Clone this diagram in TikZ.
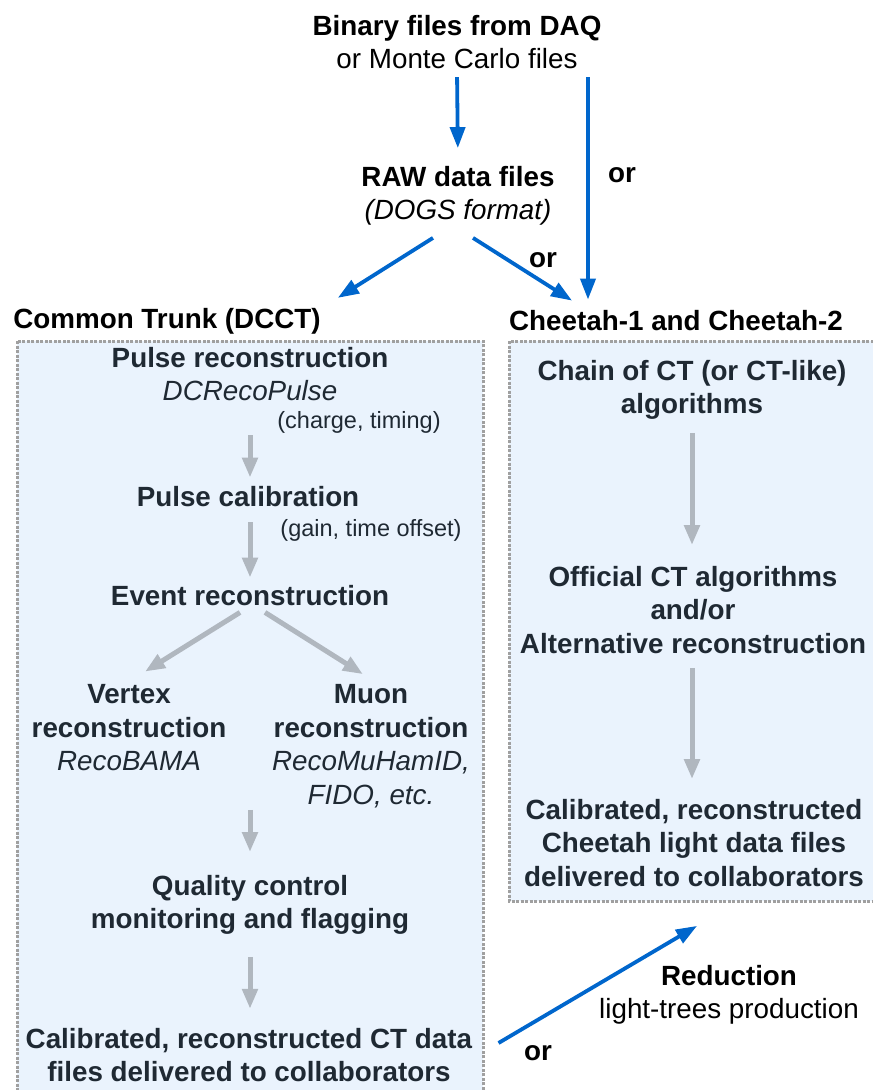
\documentclass[tikz,border=0pt]{standalone}
\usepackage{fontspec}
\setmainfont{Liberation Sans}
\usetikzlibrary{arrows.meta, positioning}
\definecolor{flowBlue}{RGB}{0,102,204}
\definecolor{stepGray}{RGB}{176,183,191}
\definecolor{boxFill}{RGB}{234,243,253}
\definecolor{boxEdge}{RGB}{160,160,160}
\definecolor{boxText}{RGB}{31,41,51}
\newcommand{\bigtext}{\fontsize{27.8}{33.5}\selectfont}
\newcommand{\smalltext}{\fontsize{23.5}{28}\selectfont}

\begin{document}
\begin{tikzpicture}[
        x=1pt,
        y=-1pt,
        title/.style={align=center, font=\bigtext, inner sep=2pt},
        stage/.style={title, text=boxText},
        note/.style={font=\smalltext, text=boxText, inner sep=2pt},
        flow/.style={line width=3.8pt, flowBlue, -{Triangle[length=21pt, width=15pt]}},
        stepArrow/.style={line width=5pt, stepGray, -{Triangle[length=20pt, width=15pt]}},
        container/.style={fill=boxFill, draw=boxEdge, line width=3pt, dash pattern=on 3pt off 1.5pt}
    ]
        \useasboundingbox (0,0) rectangle (873,1090);

        \draw[container] (17,341) rectangle (483,1110);
        \draw[container] (509,341) rectangle (885,901);

        \node[title] (binary) at (457,42)
            {\textbf{Binary files from DAQ}\\or Monte Carlo files};
        \node[title] (raw) at (458,196)
            {\textbf{RAW data files}\\\textit{(DOGS format)}};
        \node[title] (trunk) at (167,321) {\textbf{Common Trunk (DCCT)}};
        \node[title] (cheetah) at (676,321) {\textbf{Cheetah-1 and Cheetah-2}};
        \node[title] (orTop) at (622,175) {\textbf{or}};
        \node[title] (orMid) at (543,260) {\textbf{or}};
        \node[title] (orLow) at (538,1053) {\textbf{or}};

        \draw[flow, shorten <=6pt, shorten >=16pt] (binary.south) -- (raw.north);
        \draw[flow, shorten <=6pt, shorten >=9pt] ([xshift=131pt]binary.south)
            -- ([xshift=131pt]binary.south |- cheetah.north);
        \draw[flow] ([xshift=-25pt, yshift=-10pt]raw.south) -- ([xshift=15pt, yshift=8pt]trunk.north east);
        \draw[flow] ([xshift=15pt, yshift=-10pt]raw.south) -- ([xshift=-104pt, yshift=8pt]cheetah.north);

        \node[stage] (pulse) at (250,374) {\textbf{Pulse reconstruction}\\\textit{DCRecoPulse}};
        \node[note] (charge) at (359,422) {(charge, timing)};
        \node[stage] (calib) at (248,497) {\textbf{Pulse calibration}};
        \node[note] (gain) at (371,530) {(gain, time offset)};
        \node[stage] (event) at (250,596) {\textbf{Event reconstruction}};
        \node[stage] (vertex) at (129,728) {\textbf{Vertex}\\\textbf{reconstruction}\\\textit{RecoBAMA}};
        \node[stage] (muon) at (371,746)
            {\textbf{Muon}\\\textbf{reconstruction}\\\textit{RecoMuHamID,}\\\textit{FIDO, etc.}};
        \node[stage] (quality) at (250,905) {\textbf{Quality control}\\\textbf{monitoring and flagging}};
        \node[stage] (ctfiles) at (249,1055)
            {\textbf{Calibrated, reconstructed CT data}\\\textbf{files delivered to collaborators}};

        \draw[stepArrow, shorten >=7pt] (charge.south -| pulse.south) -- (calib.north -| pulse.south);
        \draw[stepArrow, shorten <=13pt, shorten >=6pt] ([xshift=2pt]calib.south) -- (event.north);
        \draw[stepArrow] ([xshift=-10pt, yshift=-4pt]event.south) -- ([xshift=16pt, yshift=11pt]vertex.north);
        \draw[stepArrow] ([xshift=15pt, yshift=-4pt]event.south) -- ([xshift=-8pt, yshift=8pt]muon.north);
        \draw[stepArrow, shorten >=21pt] (muon.south -| quality.north) -- (quality.north);
        \draw[stepArrow, shorten <=20pt, shorten >=17pt] (quality.south) -- (ctfiles.north -| quality.south);

        \node[stage] (chain) at (692,390) {\textbf{Chain of CT (or CT-like)}\\\textbf{algorithms}};
        \node[stage] (official) at (693,610)
            {\textbf{Official CT algorithms}\\\textbf{and/or}\\\textbf{Alternative reconstruction}};
        \node[stage] (cheetahfiles) at (694,843)
            {\textbf{Calibrated, reconstructed}\\\textbf{Cheetah light data files}\\\textbf{delivered to collaborators}};

        \draw[stepArrow, shorten <=11pt, shorten >=19pt] (chain.south) -- (official.north -| chain.south);
        \draw[stepArrow, shorten <=12pt, shorten >=18pt] (official.south -| chain.south) -- (cheetahfiles.north -| chain.south);

        \node[title] (reduction) at (729,995) {\textbf{Reduction}\\light-trees production};
        \draw[flow] ([xshift=24pt, yshift=12pt]ctfiles.east) -- ([xshift=3pt, yshift=-37pt]cheetahfiles.south);
    \end{tikzpicture}
\end{document}
